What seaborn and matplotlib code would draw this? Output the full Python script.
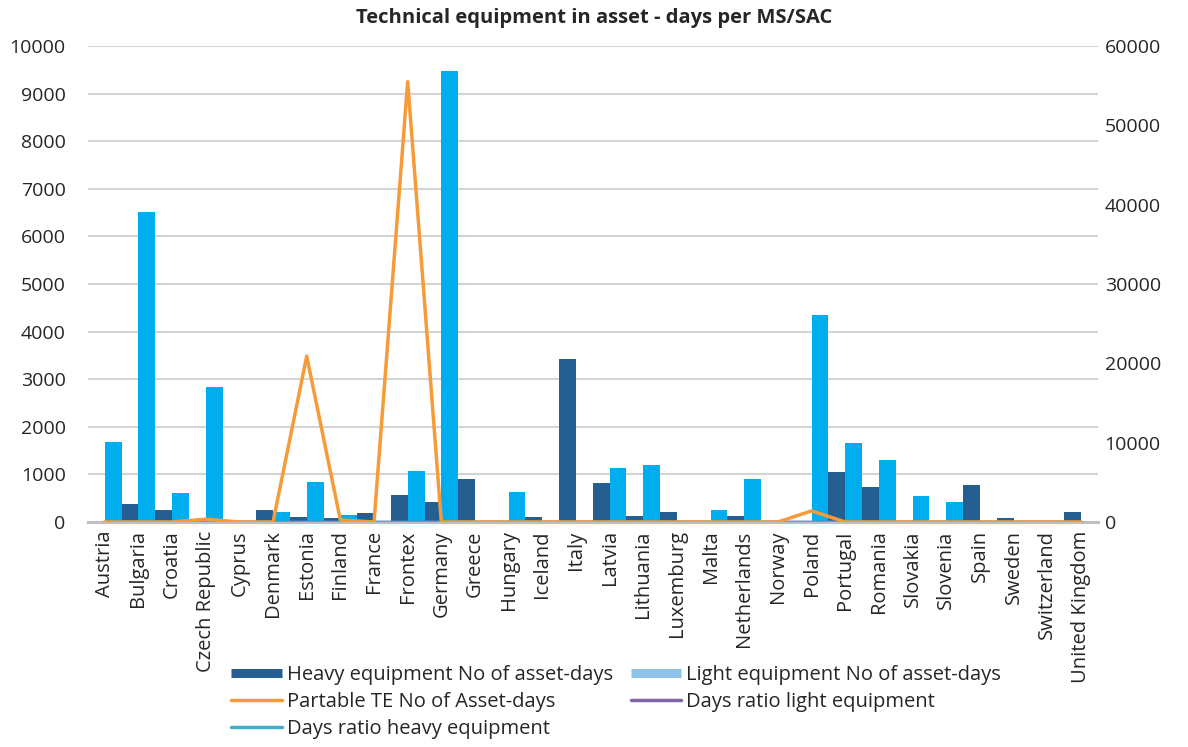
import numpy as np
import pandas as pd
import seaborn as sns
import matplotlib.pyplot as plt
from matplotlib.lines import Line2D


countries = ["Austria", "Bulgaria", "Croatia", "Czech Republic", "Cyprus", "Denmark",
	"Estonia", "Finland", "France", "Frontex", "Germany", "Greece", "Hungary", "Iceland",
	"Italy", "Latvia", "Lithuania", "Luxemburg", "Malta", "Netherlands", "Norway",
	"Poland", "Portugal", "Romania", "Slovakia", "Slovenia", "Spain", "Sweden",
	"Switzerland", "United Kingdom"]

heavy_days = [0, 380, 250, 0, 0, 250, 110, 90, 180, 570, 430, 900, 0, 100,
	3430, 810, 120, 210, 30, 120, 0, 20, 1060, 740, 0, 0, 780, 90, 0, 200]

light_days = [1690, 6520, 610, 2830, 0, 210, 830, 140, 0, 1070, 9470, 0, 630, 0,
	0, 1140, 1190, 0, 260, 910, 0, 4340, 1660, 1310, 550, 430, 0, 0, 0, 0]

portable_days = [0, 0, 0, 350, 0, 0, 20900, 250, 0, 55500, 0, 0, 0, 0,
	0, 0, 0, 0, 0, 0, 0, 1400, 0, 0, 0, 0, 0, 0, 0, 0]

# ratios are far too small to show on the 0-60000 axis
ratio_light = [0] * 30
ratio_heavy = [0] * 30

COLOR_HEAVY = "#255e91"
COLOR_LIGHT = "#00aeef"
COLOR_LIGHT_LEGEND = "#8ec3ea"
COLOR_ORANGE = "#f79a38"
COLOR_PURPLE = "#7f64a6"
COLOR_TEAL = "#3fb0c9"
TEXT_COLOR = "#262626"
FS = 14.5


sns.set_style("white")
plt.rcParams["font.family"] = ["Open Sans", "DejaVu Sans"]

df = pd.DataFrame({
	"country": countries * 2,
	"days": heavy_days + light_days,
	"kind": ["heavy"] * len(countries) + ["light"] * len(countries)})

fig = plt.figure(figsize=(11.88, 7.47), dpi=100)
ax = fig.add_axes([0.074, 0.3012, 0.850, 0.6372])

sns.barplot(data=df, x="country", y="days", hue="kind", hue_order=["heavy", "light"],
	palette={"heavy": COLOR_HEAVY, "light": COLOR_LIGHT}, width=1.0, gap=0,
	saturation=1, linewidth=0, ax=ax, legend=False)

ax.set_ylim(0, 10000)
ax.set_xlim(-0.5, len(countries) - 0.5)
ax.set_yticks(np.arange(0, 10001, 1000))
ax.yaxis.grid(True, color="#d4d4d4", linewidth=1.5)
ax.set_axisbelow(True)
ax.set_xlabel("")
ax.set_ylabel("")

for side in ["top", "right", "left"]:
	ax.spines[side].set_visible(False)
ax.spines["bottom"].set_color("#bfbfbf")
ax.spines["bottom"].set_linewidth(2.2)

ax.tick_params(axis="x", length=0, pad=6, labelsize=FS, labelcolor=TEXT_COLOR, labelrotation=90)
ax.tick_params(axis="y", length=0, pad=16, labelsize=FS - 0.5, labelcolor=TEXT_COLOR)

ax2 = ax.twinx()
xs = np.arange(len(countries))
sns.lineplot(x=xs, y=ratio_light, color=COLOR_PURPLE, linewidth=2.5, ax=ax2)
sns.lineplot(x=xs, y=ratio_heavy, color=COLOR_TEAL, linewidth=2.5, ax=ax2)
sns.lineplot(x=xs, y=portable_days, color=COLOR_ORANGE, linewidth=2.5, ax=ax2)
ax2.set_ylim(0, 60000)
ax2.set_yticks(np.arange(0, 60001, 10000))
ax2.tick_params(axis="y", length=0, pad=5, labelsize=FS - 0.5, labelcolor=TEXT_COLOR)
for side in ["top", "right", "left", "bottom"]:
	ax2.spines[side].set_visible(False)

fig.text(0.5, 0.976, "Technical equipment in asset - days per MS/SAC", ha="center", va="center",
	fontsize=FS, fontweight="bold", color=TEXT_COLOR)

handles = [
	Line2D([0], [0], color=COLOR_HEAVY, linewidth=6.5, solid_capstyle="butt"),
	Line2D([0], [0], color=COLOR_ORANGE, linewidth=2.5),
	Line2D([0], [0], color=COLOR_TEAL, linewidth=2.5),
	Line2D([0], [0], color=COLOR_LIGHT_LEGEND, linewidth=6.5, solid_capstyle="butt"),
	Line2D([0], [0], color=COLOR_PURPLE, linewidth=2.5),
]
labels = ["Heavy equipment No of asset-days", "Partable TE No of Asset-days",
	"Days ratio heavy equipment", "Light equipment No of asset-days",
	"Days ratio light equipment"]

fig.legend(handles, labels, loc="upper left", bbox_to_anchor=(0.188, 0.121),
	ncol=2, frameon=False, fontsize=FS, handlelength=2.5, handletextpad=0.25,
	columnspacing=0.9, labelspacing=0.36, borderaxespad=0, labelcolor=TEXT_COLOR)

plt.savefig("out.png", dpi=100)
